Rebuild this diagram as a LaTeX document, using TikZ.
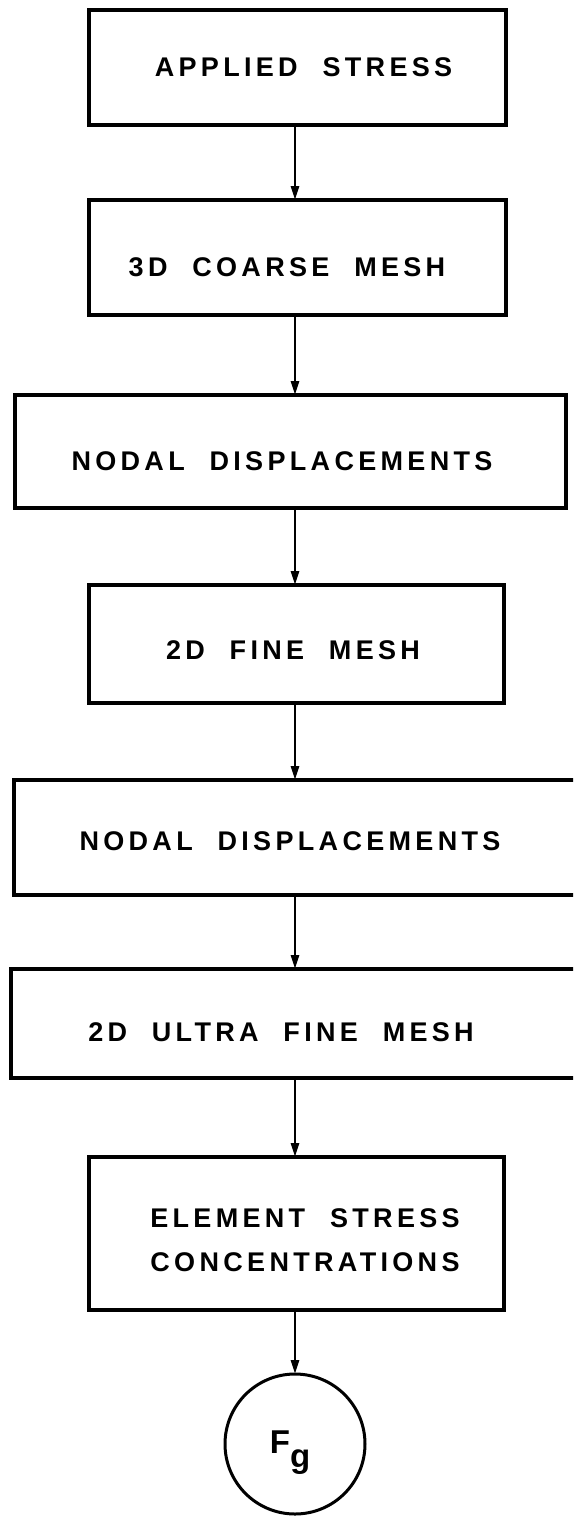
\documentclass[tikz,border=0pt]{standalone}
\usepackage{fontspec}
\newfontfamily\lett{Liberation Sans}[LetterSpace=16,WordSpace=2.1]
\newfontfamily\lettplain{Liberation Sans}
\usetikzlibrary{arrows.meta}
\begin{document}
\begin{tikzpicture}[x=1pt,y=-1pt,
  box/.style={draw, line width=3.8pt, rectangle, outer sep=0pt, inner sep=0pt},
  lbl/.style={font=\lett\bfseries\fontsize{27}{44}\selectfont, align=center, inner sep=0pt},
  conn/.style={line width=2.7pt, -{Triangle[length=14pt,width=8pt]}}]
\useasboundingbox (0,0) rectangle (573,1518);
\clip (0,0) rectangle (573,1518);
\coordinate (ax) at (295,0);
% boxes
\node[box, minimum width=417pt, minimum height=115pt] (b1) at (297.5,67.5) {};
\node[box, minimum width=417pt, minimum height=115pt] (b2) at (297.5,257.5) {};
\node[box, minimum width=551pt, minimum height=113pt] (b3) at (290.5,451.5) {};
\node[box, minimum width=415pt, minimum height=118pt] (b4) at (296.5,644) {};
\node[box, minimum width=586pt, minimum height=115pt] (b5) at (307,837.5) {};
\node[box, minimum width=589pt, minimum height=109pt] (b6) at (305.5,1023.5) {};
\node[box, minimum width=415pt, minimum height=153pt] (b7) at (296.5,1233.5) {};
\node[draw, circle, line width=3pt, minimum size=140pt, inner sep=0pt, outer sep=0pt] (fg) at (295,1444) {};
% labels
\node[lbl] (t1) at (303.5,67) {APPLIED STRESS};
\node[lbl] (t2) at (287,267) {3D COARSE MESH};
\node[lbl] (t3) at (282,461) {NODAL DISPLACEMENTS};
\node[lbl] (t4) at (293,650) {2D FINE MESH};
\node[lbl] (t5) at (290,841) {NODAL DISPLACEMENTS};
\node[lbl] (t6) at (281,1032) {2D ULTRA FINE MESH};
\node[lbl] (t7) at (305,1240) {ELEMENT STRESS\\CONCENTRATIONS};
\node[inner sep=0pt, font=\lettplain\bfseries\fontsize{33}{40}\selectfont] (tf) at (290,1453) {F\raisebox{-14pt}{g}};
% connectors
\draw[conn] (b1.south -| ax) -- (b2.north -| ax);
\draw[conn] (b2.south -| ax) -- (b3.north -| ax);
\draw[conn] (b3.south -| ax) -- (b4.north -| ax);
\draw[conn] (b4.south -| ax) -- (b5.north -| ax);
\draw[conn] (b5.south -| ax) -- (b6.north -| ax);
\draw[conn] (b6.south -| ax) -- (b7.north -| ax);
\draw[conn] (b7.south -| ax) -- (fg.north);
\end{tikzpicture}
\end{document}
